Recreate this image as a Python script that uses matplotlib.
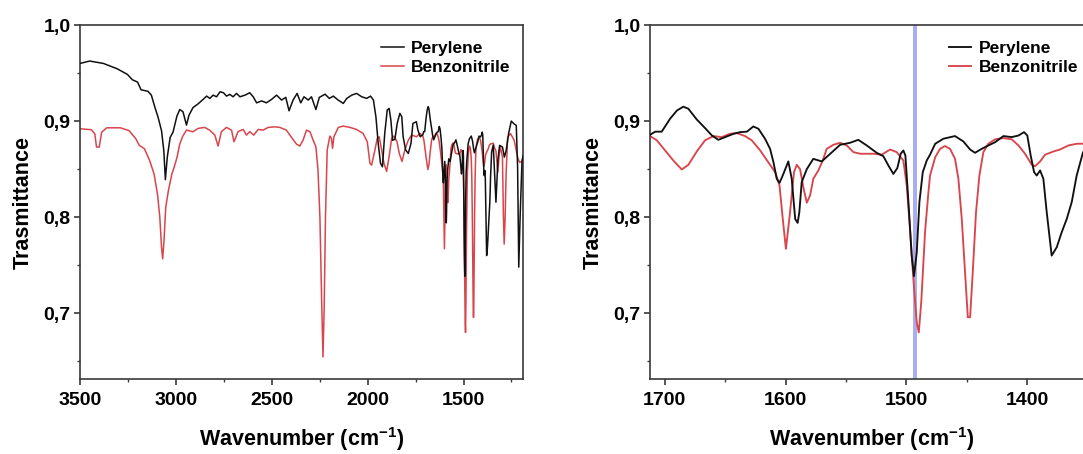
import matplotlib
matplotlib.use("Agg")
import matplotlib.pyplot as plt
from matplotlib.ticker import MultipleLocator, FuncFormatter

plt.rcParams['font.family'] = ['Liberation Sans', 'DejaVu Sans']
plt.rcParams['font.weight'] = 'bold'
plt.rcParams['mathtext.fontset'] = 'custom'
plt.rcParams['mathtext.rm'] = 'Liberation Sans'
plt.rcParams['mathtext.bf'] = 'Liberation Sans:bold'

# Perylene spectrum (wavenumber cm-1, transmittance)
perylene_wn = [3500, 3450, 3378, 3307, 3253, 3227, 3200, 3182, 3146, 3128, 3110, 3093, 3075, 3063, 3055,
               3045, 3030, 3015, 2995, 2980, 2963, 2945, 2932, 2911, 2884, 2858, 2840, 2823, 2806, 2788,
               2770, 2752, 2736, 2719, 2702, 2684, 2666, 2640, 2615, 2597, 2579, 2553, 2528, 2501, 2475,
               2449, 2427, 2410, 2389, 2368, 2349, 2332, 2310, 2293, 2270, 2252, 2222, 2200, 2179, 2154,
               2127, 2109, 2083, 2058, 2031, 2005, 1985, 1970, 1957, 1945, 1933, 1923, 1911, 1898, 1888,
               1879, 1870, 1858, 1846, 1832, 1822, 1815, 1802, 1788, 1774, 1764, 1746, 1738, 1726, 1718,
               1712.3, 1708, 1702.6, 1695.7, 1690, 1684.7, 1680.5, 1673.6, 1666.7, 1661, 1655.7, 1650,
               1643, 1637.7, 1632, 1626.7, 1622.5, 1617, 1612.8, 1610, 1607.3, 1605, 1601.8, 1597.7,
               1594.9, 1592, 1590, 1588.6, 1586.6, 1582.4, 1577, 1570, 1563, 1554.8, 1546.6, 1539.7,
               1532.7, 1524.5, 1519, 1514.8, 1510.7, 1507.4, 1504.6, 1502.4, 1500.7, 1498, 1495.5,
               1493.6, 1491.3, 1489.1, 1486.3, 1483, 1480.3, 1476, 1469.3, 1459.6, 1452.7, 1447.1, 1443,
               1437.5, 1432, 1426.4, 1419.5, 1412.6, 1407, 1402.4, 1399.7, 1396.9, 1394.1, 1391.9,
               1389.1, 1386.4, 1383.6, 1379.5, 1375.3, 1371.2, 1367, 1362.9, 1358.8, 1353.5, 1345,
               1338, 1331, 1321, 1312, 1297, 1287, 1278, 1265, 1251, 1236, 1225, 1218, 1212, 1205,
               1195, 1188]
perylene_t = [0.960, 0.9625, 0.960, 0.9545, 0.9486, 0.943, 0.9406, 0.9326, 0.931, 0.927, 0.9146, 0.904,
              0.890, 0.869, 0.839, 0.8625, 0.883, 0.8885, 0.905, 0.912, 0.9097, 0.8958, 0.906, 0.914,
              0.918, 0.9226, 0.926, 0.9236, 0.927, 0.9253, 0.9305, 0.9295, 0.926, 0.9278, 0.9253,
              0.9288, 0.9253, 0.927, 0.9295, 0.9253, 0.919, 0.921, 0.919, 0.9226, 0.927, 0.9219,
              0.9247, 0.9107, 0.9219, 0.9288, 0.919, 0.9253, 0.9219, 0.9253, 0.912, 0.9247, 0.928,
              0.9236, 0.926, 0.9219, 0.9184, 0.9236, 0.927, 0.9288, 0.9253, 0.9236, 0.926, 0.9219,
              0.9045, 0.8768, 0.856, 0.8524, 0.887, 0.9115, 0.9132, 0.901, 0.880, 0.881, 0.8976,
              0.908, 0.9045, 0.8837, 0.870, 0.8663, 0.8768, 0.8976, 0.8993, 0.8906, 0.8837, 0.885,
              0.8857, 0.889, 0.889, 0.9024, 0.911, 0.915, 0.9128, 0.9017, 0.8927, 0.885, 0.8805,
              0.8833, 0.8868, 0.8885, 0.889, 0.8944, 0.892, 0.8816, 0.871, 0.857, 0.840, 0.8357,
              0.845, 0.858, 0.840, 0.798, 0.794, 0.805, 0.8365, 0.850, 0.8607, 0.858, 0.866, 0.8753,
              0.8774, 0.8805, 0.8746, 0.867, 0.8635, 0.8538, 0.845, 0.851, 0.866, 0.8694, 0.864,
              0.812, 0.760, 0.7385, 0.7633, 0.8156, 0.8469, 0.859, 0.865, 0.8764, 0.8816, 0.8844,
              0.8788, 0.8704, 0.867, 0.8711, 0.8746, 0.878, 0.8844, 0.8833, 0.885, 0.8885, 0.885,
              0.8642, 0.8469, 0.8433, 0.8486, 0.840, 0.805, 0.760, 0.7687, 0.7843, 0.7982, 0.8156,
              0.8433, 0.8677, 0.875, 0.845, 0.8156, 0.859, 0.8747, 0.873, 0.8625, 0.869, 0.887,
              0.900, 0.897, 0.8955, 0.852, 0.748, 0.800, 0.859, 0.865]

# Benzonitrile spectrum
benzo_wn = [3500, 3441, 3423, 3414, 3400, 3387, 3361, 3289, 3244, 3209, 3191, 3164, 3137, 3114, 3096,
            3084, 3075, 3069, 3062, 3053, 3039, 3021, 3009, 2994, 2980, 2965, 2945, 2911, 2884, 2850,
            2824, 2797, 2780, 2763, 2736, 2710, 2697, 2676, 2649, 2632, 2615, 2594, 2571, 2545, 2519,
            2485, 2458, 2424, 2397, 2371, 2354, 2337, 2319, 2301, 2284, 2270, 2259, 2249, 2240, 2233,
            2227, 2220, 2211, 2197, 2189, 2183, 2176, 2153, 2128, 2092, 2058, 2024, 2002, 1988, 1979.5,
            1962, 1950, 1940, 1927, 1915, 1901, 1888, 1875, 1863, 1847, 1835, 1821, 1806, 1788, 1771,
            1745, 1727, 1718, 1712.3, 1706.7, 1699.8, 1693, 1686, 1680.5, 1673.6, 1666.7, 1659.8,
            1652.9, 1646, 1640.4, 1633.6, 1628, 1621, 1614.2, 1608.7, 1605, 1602.3, 1599.7, 1596.3,
            1593, 1590.7, 1588, 1585, 1582.4, 1579.7, 1577, 1572.8, 1569.2, 1565.9, 1560.4, 1554.8,
            1549.3, 1543.8, 1538.3, 1527.3, 1520.3, 1513.4, 1507.9, 1502.4, 1499.6, 1496.9, 1494.1,
            1491.3, 1489.6, 1487.5, 1484.4, 1481.7, 1480.3, 1476, 1472, 1467.9, 1463.7, 1459.6,
            1456.8, 1454, 1451.3, 1449, 1447.1, 1444.9, 1442.2, 1439.4, 1436.1, 1432, 1426.4, 1419.5,
            1412.6, 1407, 1401.6, 1396, 1393.3, 1389.1, 1385, 1378.1, 1372.6, 1365.7, 1358.8, 1353.5,
            1345, 1338, 1331, 1321, 1314, 1308, 1297, 1292, 1288, 1283, 1278, 1270, 1255, 1236, 1218,
            1208, 1195, 1188]
benzo_t = [0.892, 0.891, 0.8868, 0.873, 0.873, 0.8885, 0.893, 0.893, 0.890, 0.8816, 0.8747, 0.8712,
           0.859, 0.845, 0.824, 0.800, 0.7688, 0.7566, 0.7757, 0.8104, 0.8278, 0.845, 0.852, 0.8625,
           0.876, 0.884, 0.8906, 0.8889, 0.8924, 0.8934, 0.8906, 0.8854, 0.874, 0.889, 0.8934,
           0.8906, 0.8785, 0.889, 0.8913, 0.8854, 0.889, 0.8854, 0.8913, 0.8906, 0.8934, 0.894,
           0.8934, 0.8906, 0.883, 0.876, 0.874, 0.880, 0.8906, 0.889, 0.880, 0.8733, 0.849, 0.800,
           0.7135, 0.6545, 0.703, 0.800, 0.870, 0.8844, 0.882, 0.8716, 0.8837, 0.8934, 0.8948,
           0.8934, 0.8913, 0.8872, 0.8785, 0.856, 0.8542, 0.870, 0.882, 0.8837, 0.870, 0.856,
           0.8476, 0.8632, 0.882, 0.8844, 0.8785, 0.8663, 0.858, 0.870, 0.8802, 0.8854, 0.8837,
           0.8872, 0.8855, 0.8844, 0.880, 0.8694, 0.859, 0.8496, 0.8545, 0.8683, 0.880, 0.8844,
           0.8833, 0.8868, 0.8875, 0.8844, 0.880, 0.8694, 0.857, 0.8469, 0.833, 0.798, 0.767,
           0.805, 0.8469, 0.8545, 0.850, 0.8295, 0.815, 0.8225, 0.840, 0.8486, 0.859, 0.8711,
           0.8753, 0.8774, 0.8746, 0.8677, 0.866, 0.866, 0.865, 0.8704, 0.8677, 0.859, 0.833,
           0.788, 0.7357, 0.6903, 0.680, 0.713, 0.785, 0.825, 0.8433, 0.8624, 0.8711, 0.874,
           0.8711, 0.8607, 0.840, 0.798, 0.7426, 0.6958, 0.6958, 0.7426, 0.805, 0.8433, 0.8677,
           0.8764, 0.881, 0.8823, 0.881, 0.8746, 0.866, 0.8545, 0.853, 0.858, 0.865, 0.8683,
           0.8704, 0.8746, 0.8764, 0.8764, 0.877, 0.872, 0.869, 0.847, 0.865, 0.873, 0.8625, 0.80,
           0.772, 0.80, 0.845, 0.883, 0.887, 0.880, 0.8625, 0.857, 0.858, 0.858]

y_ticks = [0.7, 0.8, 0.9, 1.0]
highlight_wn = 1492.5

black = '#111111'
red = '#d9454c'
spine_col = '#3a3a3a'

fig = plt.figure(figsize=(10.83, 4.54), dpi=100)
ax1 = fig.add_axes([0.0739, 0.1641, 0.4090, 0.7808])
ax2 = fig.add_axes([0.6002, 0.1641, 0.4090, 0.7808])


def style_axis(ax, xlim, major, minor, lw):
    ax.set_xlim(*xlim)
    ax.set_ylim(0.631, 1.0)
    ax.xaxis.set_major_locator(MultipleLocator(major))
    ax.xaxis.set_minor_locator(MultipleLocator(minor))
    ax.set_yticks(y_ticks)
    ax.yaxis.set_minor_locator(MultipleLocator(0.05))
    ax.yaxis.set_major_formatter(FuncFormatter(lambda v, p: f'{v:.1f}'.replace('.', ',')))
    ax.tick_params(which='major', direction='out', length=4.3, width=1.2, color=spine_col,
                   labelsize=14)
    ax.tick_params(axis='x', which='major', pad=4.5)
    ax.tick_params(axis='y', which='major', pad=2.5)
    ax.tick_params(which='minor', direction='out', length=2.5, width=1.0, color=spine_col)
    for lab in ax.get_xticklabels() + ax.get_yticklabels():
        lab.set_fontweight('bold')
    for sp in ax.spines.values():
        sp.set_color(spine_col)
        sp.set_linewidth(1.2)
    ax.set_ylabel('Trasmittance', fontsize=15.5, fontweight='bold', labelpad=7)
    ax.set_xlabel(r'Wavenumber (cm$^{\mathbf{-1}}$)', fontsize=15.5, fontweight='bold', labelpad=12)
    ax.plot(perylene_wn, perylene_t, color=black, lw=lw, label='Perylene', zorder=3)
    ax.plot(benzo_wn, benzo_t, color=red, lw=lw, label='Benzonitrile', zorder=2)
    leg = ax.legend(loc='upper right', bbox_to_anchor=(1.0, 0.99) if ax is ax1 else (0.995, 0.99),
                    frameon=False, fontsize=12.5, handlelength=1.3, handletextpad=0.45,
                    labelspacing=0.25, borderaxespad=0.3)
    for t in leg.get_texts():
        t.set_fontweight('bold')


style_axis(ax1, (3500, 1190), 500, 250, 1.1)
style_axis(ax2, (1712.3, 1345.3), 100, 50, 1.35)
ax2.axvspan(highlight_wn - 1.7, highlight_wn + 1.7, color='#a9aef2', lw=0, zorder=1)

fig.savefig('out.png', dpi=100)
